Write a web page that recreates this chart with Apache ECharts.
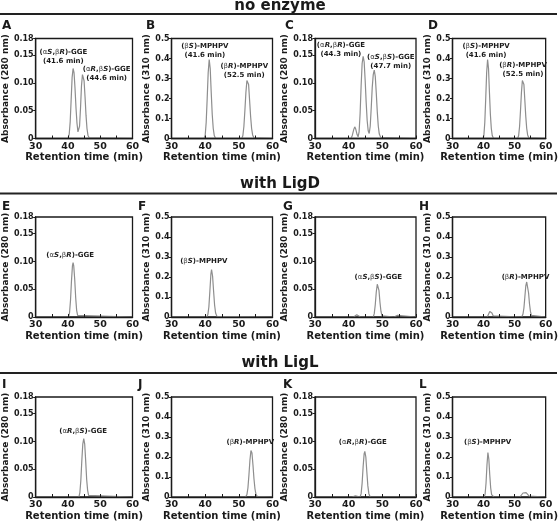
<!DOCTYPE html>
<html><head><meta charset="utf-8">
<script src="https://cdn.jsdelivr.net/npm/echarts@6/dist/echarts.min.js"></script>
<style>html,body{margin:0;padding:0;background:#fff}#c{width:560px;height:522px}</style>
</head><body><div id="c"></div><script>
// ---- data (retention time [min], absorbance) ----
const sectionTitles = ['no enzyme', 'with LigD', 'with LigL'];
const panelLetters = ['A','B','C','D','E','F','G','H','I','J','K','L'];
const wavelengths = ['280','310','280','310','280','310','280','310','280','310','280','310'];
const xTicks = [30, 40, 50, 60];
const yTicks280 = [0, 0.05, 0.10, 0.15, 0.18];
const yTicks310 = [0, 0.1, 0.2, 0.3, 0.4, 0.5];

const traceA = [[30,0],[40.0,0],[40.4,0.008],[40.7,0.03],[41.0,0.07],[41.3,0.11],[41.6,0.126],[41.9,0.118],[42.2,0.09],[42.5,0.055],[42.8,0.028],[43.1,0.012],[43.3,0.009],[43.6,0.022],[43.9,0.055],[44.2,0.095],[44.5,0.115],[44.7,0.117],[45.0,0.104],[45.3,0.075],[45.6,0.042],[45.9,0.018],[46.2,0.006],[46.6,0.001],[47,0],[60,0]];
const traceB = [[30,0],[39.7,0],[40.0,0.015],[40.3,0.08],[40.6,0.2],[40.9,0.33],[41.2,0.395],[41.5,0.35],[41.8,0.23],[42.1,0.12],[42.4,0.05],[42.7,0.015],[43.1,0],[50.9,0],[51.2,0.015],[51.5,0.06],[51.8,0.14],[52.1,0.23],[52.4,0.29],[52.6,0.3],[52.9,0.27],[53.2,0.19],[53.5,0.11],[53.8,0.05],[54.1,0.018],[54.5,0.003],[54.9,0],[60,0]];
const traceC = [[30,0],[40.7,0],[41.1,0.006],[41.5,0.016],[41.8,0.021],[42.1,0.017],[42.5,0.007],[42.8,0.003],[43.1,0.012],[43.4,0.045],[43.7,0.095],[44.0,0.135],[44.3,0.148],[44.6,0.138],[44.9,0.105],[45.2,0.065],[45.5,0.032],[45.8,0.014],[46.1,0.009],[46.4,0.022],[46.7,0.055],[47.0,0.092],[47.3,0.115],[47.6,0.123],[47.9,0.112],[48.2,0.082],[48.5,0.048],[48.8,0.022],[49.1,0.008],[49.5,0.002],[49.9,0],[60,0]];
const traceD = [[30,0],[39.8,0],[40.1,0.015],[40.4,0.08],[40.7,0.2],[41.0,0.33],[41.3,0.395],[41.6,0.35],[41.9,0.23],[42.2,0.12],[42.5,0.05],[42.8,0.015],[43.2,0],[51.0,0],[51.3,0.015],[51.6,0.06],[51.9,0.14],[52.2,0.23],[52.5,0.29],[52.7,0.3],[53.0,0.27],[53.3,0.19],[53.6,0.11],[53.9,0.05],[54.2,0.018],[54.6,0.003],[55.0,0],[60,0]];
const traceE = [[30,0],[40.2,0],[40.5,0.008],[40.8,0.03],[41.1,0.065],[41.4,0.092],[41.6,0.098],[41.8,0.092],[42.1,0.068],[42.4,0.035],[42.7,0.012],[43.0,0.003],[43.3,0],[60,0]];
const traceF = [[30,0],[40.5,0],[40.8,0.012],[41.1,0.05],[41.4,0.13],[41.7,0.215],[41.9,0.237],[42.2,0.205],[42.5,0.13],[42.8,0.06],[43.1,0.02],[43.5,0.003],[43.8,0],[60,0]];
const traceG = [[30,0],[41.5,0],[42.0,0.003],[42.4,0.004],[42.9,0.001],[43.5,0],[47.3,0],[47.6,0.006],[47.9,0.022],[48.2,0.045],[48.5,0.059],[48.7,0.06],[49.0,0.048],[49.3,0.026],[49.6,0.01],[49.9,0.002],[50.2,0],[53.5,0],[54.0,0.002],[54.5,0.003],[55.0,0],[60,0]];
const traceH = [[30,0],[41.2,0],[41.6,0.01],[42.0,0.028],[42.3,0.034],[42.7,0.02],[43.1,0.006],[43.6,0],[52.3,0],[52.7,0.015],[53.0,0.045],[53.3,0.1],[53.6,0.155],[53.9,0.175],[54.2,0.165],[54.5,0.12],[54.8,0.065],[55.1,0.028],[55.4,0.008],[55.8,0],[60,0]];
const traceI = [[30,0],[43.4,0],[43.7,0.008],[44.0,0.03],[44.3,0.065],[44.6,0.095],[44.9,0.105],[45.2,0.095],[45.5,0.065],[45.8,0.032],[46.1,0.012],[46.4,0.003],[46.8,0],[60,0]];
const traceJ = [[30,0],[52.0,0],[52.4,0.012],[52.7,0.045],[53.0,0.11],[53.3,0.185],[53.6,0.232],[53.9,0.22],[54.2,0.16],[54.5,0.09],[54.8,0.04],[55.1,0.013],[55.5,0.002],[55.9,0],[60,0]];
const traceK = [[30,0],[41.0,0],[41.5,0.002],[42.0,0.002],[42.5,0],[43.4,0],[43.7,0.006],[44.0,0.025],[44.3,0.055],[44.6,0.078],[44.8,0.082],[45.1,0.072],[45.4,0.045],[45.7,0.02],[46.0,0.006],[46.4,0],[60,0]];
const traceL = [[30,0],[40.2,0],[40.5,0.015],[40.8,0.07],[41.1,0.16],[41.4,0.222],[41.7,0.19],[42.0,0.11],[42.3,0.045],[42.6,0.012],[43.0,0.002],[43.3,0],[51.7,0],[52.2,0.008],[52.7,0.02],[53.2,0.025],[53.7,0.022],[54.2,0.012],[54.7,0.004],[55.3,0],[60,0]];
const traces = [traceA,traceB,traceC,traceD,traceE,traceF,traceG,traceH,traceI,traceJ,traceK,traceL];

// annotation labels: [time, absorbance, text]
const notesA = [[38.6,0.148,'({g|α}{i|S},{g|β}{i|R})-GGE\n(41.6 min)'],[52.0,0.116,'({g|α}{i|R},{g|β}{i|S})-GGE\n(44.6 min)']];
const notesB = [[39.9,0.44,'({g|β}{i|S})-MPHPV\n(41.6 min)'],[51.6,0.339,'({g|β}{i|R})-MPHPV\n(52.5 min)']];
const notesC = [[37.7,0.159,'({g|α}{i|R},{g|β}{i|R})-GGE\n(44.3 min)'],[52.5,0.139,'({g|α}{i|S},{g|β}{i|S})-GGE\n(47.7 min)']];
const notesD = [[40.8,0.44,'({g|β}{i|S})-MPHPV\n(41.6 min)'],[52.7,0.344,'({g|β}{i|R})-MPHPV\n(52.5 min)']];
const notesE = [[40.7,0.112,'({g|α}{i|S},{g|β}{i|R})-GGE']];
const notesF = [[39.6,0.277,'({g|β}{i|S})-MPHPV']];
const notesG = [[48.8,0.0715,'({g|α}{i|S},{g|β}{i|S})-GGE']];
const notesH = [[53.5,0.1985,'({g|β}{i|R})-MPHPV']];
const notesI = [[44.7,0.119,'({g|α}{i|R},{g|β}{i|S})-GGE']];
const notesJ = [[53.4,0.272,'({g|β}{i|R})-MPHPV']];
const notesK = [[44.2,0.098,'({g|α}{i|R},{g|β}{i|R})-GGE']];
const notesL = [[41.3,0.272,'({g|β}{i|S})-MPHPV']];
const notes = [notesA,notesB,notesC,notesD,notesE,notesF,notesG,notesH,notesI,notesJ,notesK,notesL];

// ---- layout ----
const FONT = 'DejaVu Sans';
const colLeft = [31.5, 171.5, 315, 452.5];
const rowTop = [38.5, 217, 397];
const rowH = [100, 100, 101.5];
const plotW = 101;
const ruleY = [14, 193.5, 373];
const titleY = [13.5, 191.5, 370.5];
const letterX = [2, 138, 283, 419];
const letterX0 = [2, 146, 285, 428];
const letterY = [29, 210, 387.5];
const INK = '#1a1a1a';
const NOTE_SIZE = 7;

const grids = [], xAxes = [], yAxes = [], series = [], graphics = [];
for (let i = 0; i < 12; i++) {
  const r = Math.floor(i / 4), c = i % 4;
  const is280 = wavelengths[i] === '280';
  const yt = is280 ? yTicks280 : yTicks310;
  grids.push({left: colLeft[c], top: rowTop[r], width: plotW, height: rowH[r],
    show: true, borderColor: INK, borderWidth: 1.3, backgroundColor: 'transparent'});
  xAxes.push({gridIndex: i, type: 'value', min: xTicks[0], max: xTicks[xTicks.length-1], interval: 5, z: 5,
    axisLine: {show: true, onZero: false, lineStyle: {color: INK, width: 1.3}},
    axisTick: {show: true, inside: true, length: 3, lineStyle: {color: INK, width: 1}},
    splitLine: {show: false},
    axisLabel: {margin: 3, fontSize: 9.5, fontWeight: 'bold', fontFamily: FONT, color: INK,
      formatter: v => xTicks.indexOf(v) >= 0 ? String(v) : ''},
    name: 'Retention time (min)', nameLocation: 'middle', nameGap: 14,
    nameTextStyle: {fontSize: 10, fontWeight: 'bold', fontFamily: FONT, color: INK, verticalAlign: 'top'}});
  yAxes.push({gridIndex: i, type: 'value', min: yt[0], max: yt[yt.length-1], interval: yt[1], z: 5,
    axisLine: {show: true, onZero: false, lineStyle: {color: INK, width: 1.3}},
    axisTick: {show: true, inside: false, length: 2.5, lineStyle: {color: INK, width: 1}},
    splitLine: {show: false},
    axisLabel: {margin: 2, fontSize: 8, fontWeight: 'bold', fontFamily: FONT, color: INK,
      formatter: v => v === 0 ? '0' : (is280 ? v.toFixed(2) : v.toFixed(1))},
    name: 'Absorbance (' + wavelengths[i] + ' nm)', nameLocation: 'middle', nameGap: 19,
    nameTextStyle: {fontSize: 9, fontWeight: 'bold', fontFamily: FONT, color: INK}});
  series.push({type: 'line', xAxisIndex: i, yAxisIndex: i, data: traces[i], showSymbol: false,
    symbol: 'none', z: 2, lineStyle: {color: '#8e8e8e', width: 1.2}, animation: false,
    markPoint: {symbol: 'circle', symbolSize: 0, animation: false,
      data: notes[i].map(n => ({coord: [n[0], n[1]], value: n[2]})),
      label: {show: true, position: 'inside', formatter: p => p.value, color: INK,
        fontSize: NOTE_SIZE, fontWeight: 'bold', fontFamily: FONT, lineHeight: 9, align: 'center',
        rich: {
          i: {fontStyle: 'italic', fontWeight: 'bold', fontSize: NOTE_SIZE, fontFamily: FONT, color: INK, lineHeight: 9},
          g: {fontWeight: 'normal', fontSize: NOTE_SIZE, fontFamily: FONT, color: '#444', lineHeight: 9}
        }}}});
  graphics.push({type: 'text', left: (r === 0 ? letterX0 : letterX)[c], top: letterY[r] - 9,
    style: {text: panelLetters[i], fontSize: 12, fontWeight: 'bold', fontFamily: FONT, fill: INK}});
}
for (let r = 0; r < 3; r++) {
  graphics.push({type: 'line', shape: {x1: 0, y1: ruleY[r], x2: 557, y2: ruleY[r]},
    style: {stroke: '#222', lineWidth: 1.8}});
  graphics.push({type: 'text', x: 280, y: titleY[r],
    style: {text: sectionTitles[r], fontSize: 15, fontWeight: 'bold', fontFamily: FONT, fill: INK,
      align: 'center', verticalAlign: 'bottom'}});
}

const chart = echarts.init(document.getElementById('c'), null, {renderer: 'canvas'});
chart.setOption({animation: false, backgroundColor: '#fff', grid: grids, xAxis: xAxes, yAxis: yAxes,
  series: series, graphic: graphics});
</script></body></html>
